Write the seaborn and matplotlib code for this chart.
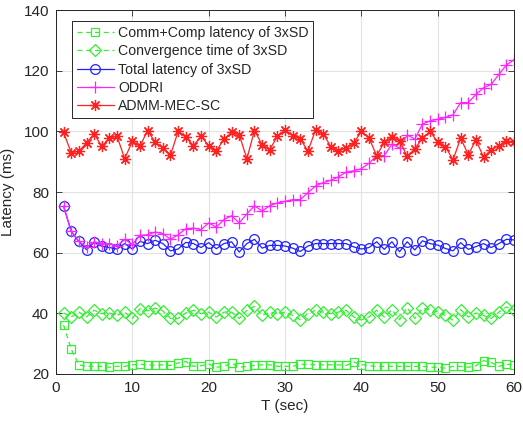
import numpy as np
import pandas as pd
import matplotlib
matplotlib.use("Agg")
import matplotlib.pyplot as plt
import seaborn as sns

T = list(range(1, 61))

comm_comp = [36.1, 28.2, 23.0, 22.5, 22.5, 22.5, 22.2, 22.5, 22.5, 23.0,
             23.2, 23.0, 22.8, 23.0, 22.8, 23.6, 24.1, 22.5, 22.7, 23.3,
             22.2, 22.5, 23.6, 22.2, 22.5, 22.8, 23.0, 23.0, 22.5, 22.5,
             22.5, 23.2, 23.2, 23.0, 23.0, 23.0, 23.0, 22.8, 23.9, 23.1,
             22.7, 22.5, 22.5, 22.5, 22.5, 22.5, 22.5, 22.5, 22.2, 22.2,
             21.9, 22.5, 22.5, 22.2, 22.7, 24.4, 23.8, 22.5, 23.2, 23.0]

convergence = [40.1, 38.8, 40.4, 38.8, 41.0, 39.9, 40.1, 39.3, 40.4, 38.3,
               41.5, 40.8, 41.7, 40.8, 38.3, 38.3, 40.1, 41.0, 39.9, 40.4,
               38.8, 40.4, 40.4, 38.3, 41.0, 42.3, 39.3, 40.4, 39.9, 40.4,
               39.3, 37.9, 39.9, 41.0, 40.4, 39.9, 40.4, 41.0, 38.8, 37.8,
               38.8, 41.0, 38.8, 41.2, 37.9, 41.9, 38.3, 41.7, 41.2, 40.4,
               39.3, 37.7, 41.2, 38.8, 40.1, 39.3, 38.3, 40.4, 42.1, 41.0]

total = [75.3, 67.0, 63.7, 61.0, 63.4, 62.1, 61.7, 61.2, 63.0, 61.2,
         63.7, 63.0, 64.1, 63.0, 60.6, 61.2, 63.4, 63.0, 61.7, 63.3,
         61.3, 63.0, 63.6, 60.2, 63.0, 64.4, 61.5, 62.4, 62.4, 62.2,
         61.5, 60.4, 62.2, 63.0, 63.0, 63.0, 63.0, 63.0, 61.9, 61.2,
         61.7, 63.6, 61.1, 63.6, 60.3, 63.6, 60.9, 63.9, 63.0, 62.5,
         61.4, 60.6, 63.3, 61.1, 62.0, 63.0, 61.7, 63.0, 64.4, 64.2]

oddri = [75.3, 67.0, 63.7, 61.9, 63.6, 63.0, 63.0, 62.2, 64.4, 62.7,
         65.7, 65.9, 66.8, 66.3, 64.4, 65.9, 67.9, 68.1, 67.6, 69.8,
         68.4, 70.9, 72.2, 69.8, 72.8, 75.5, 73.7, 75.5, 76.4, 76.9,
         77.5, 77.5, 79.8, 82.0, 83.1, 83.9, 85.0, 86.6, 87.0, 87.7,
         89.5, 92.0, 92.0, 95.8, 94.5, 98.8, 97.5, 102.4, 103.5, 104.0,
         104.6, 105.5, 109.5, 109.5, 112.2, 114.4, 115.5, 118.8, 121.9, 123.7]

admm = [99.7, 92.9, 93.5, 96.2, 99.2, 95.1, 97.8, 98.4, 91.0, 96.7,
        95.1, 100.3, 96.4, 94.6, 92.2, 100.0, 98.1, 95.3, 98.4, 95.3,
        93.5, 97.5, 99.7, 98.9, 91.0, 100.3, 95.6, 94.0, 98.4, 100.5,
        98.6, 97.5, 93.5, 100.5, 99.3, 94.9, 93.5, 94.6, 96.2, 100.0,
        97.8, 92.0, 96.4, 98.0, 96.9, 91.8, 94.2, 97.8, 100.0, 96.4,
        95.0, 90.6, 97.8, 92.3, 97.2, 91.5, 94.0, 95.3, 96.9, 96.4]

labels = ["Comm+Comp latency of 3xSD", "Convergence time of 3xSD",
          "Total latency of 3xSD", "ODDRI", "ADMM-MEC-SC"]
x_ticks = [0, 10, 20, 30, 40, 50, 60]
y_ticks = [20, 40, 60, 80, 100, 120, 140]

sns.set_theme(style="ticks")
plt.rcParams['font.family'] = ['Liberation Sans', 'DejaVu Sans']

fig = plt.figure(figsize=(5.23, 4.23), dpi=100)
ax = fig.add_axes([0.107, 0.116, 0.876, 0.860])

series = [comm_comp, convergence, total, oddri, admm]
styles = [
    dict(color="#33ee33", marker="s", ls=(0, (4, 3)), ms=6),
    dict(color="#33ee33", marker="D", ls=(0, (4, 3)), ms=6),
    dict(color="#2222ff", marker="o", ls="-", ms=7),
    dict(color="#ff22ff", marker="+", ls="-", ms=9),
    dict(color="#ff2020", marker=(8, 2, 0), ls="-", ms=8),
]
for vals, lab, st in zip(series, labels, styles):
    df = pd.DataFrame({"T": T, "v": vals})
    sns.lineplot(data=df, x="T", y="v", ax=ax, label=lab,
                 color=st["color"], marker=st["marker"], linestyle=st["ls"],
                 markersize=st["ms"], markerfacecolor="none",
                 markeredgecolor=st["color"], markeredgewidth=0.9,
                 linewidth=0.9)

ax.set_xlim(0, 60)
ax.set_ylim(20, 140)
ax.set_xticks(x_ticks)
ax.set_yticks(y_ticks)
ax.grid(True, color="#e3e3e3", linewidth=0.8)
ax.set_axisbelow(True)
for s in ax.spines.values():
    s.set_visible(True)
    s.set_color("#262626")
    s.set_linewidth(0.7)
ax.tick_params(direction="in", top=True, right=True, length=4, width=0.6,
               labelsize=11, colors="#262626", pad=5)
ax.set_xlabel("T (sec)", fontsize=11, color="#262626", labelpad=3)
ax.set_ylabel("Latency (ms)", fontsize=11, color="#262626", labelpad=6)

leg = ax.legend(loc="upper left", fontsize=10.2, frameon=True, fancybox=False,
                framealpha=1, edgecolor="#262626", borderpad=0.35,
                labelspacing=0.3, handlelength=2.6, handletextpad=0.3,
                bbox_to_anchor=(0.035, 0.97), borderaxespad=0)
leg.get_frame().set_linewidth(0.7)

fig.savefig("out.png", dpi=100)
